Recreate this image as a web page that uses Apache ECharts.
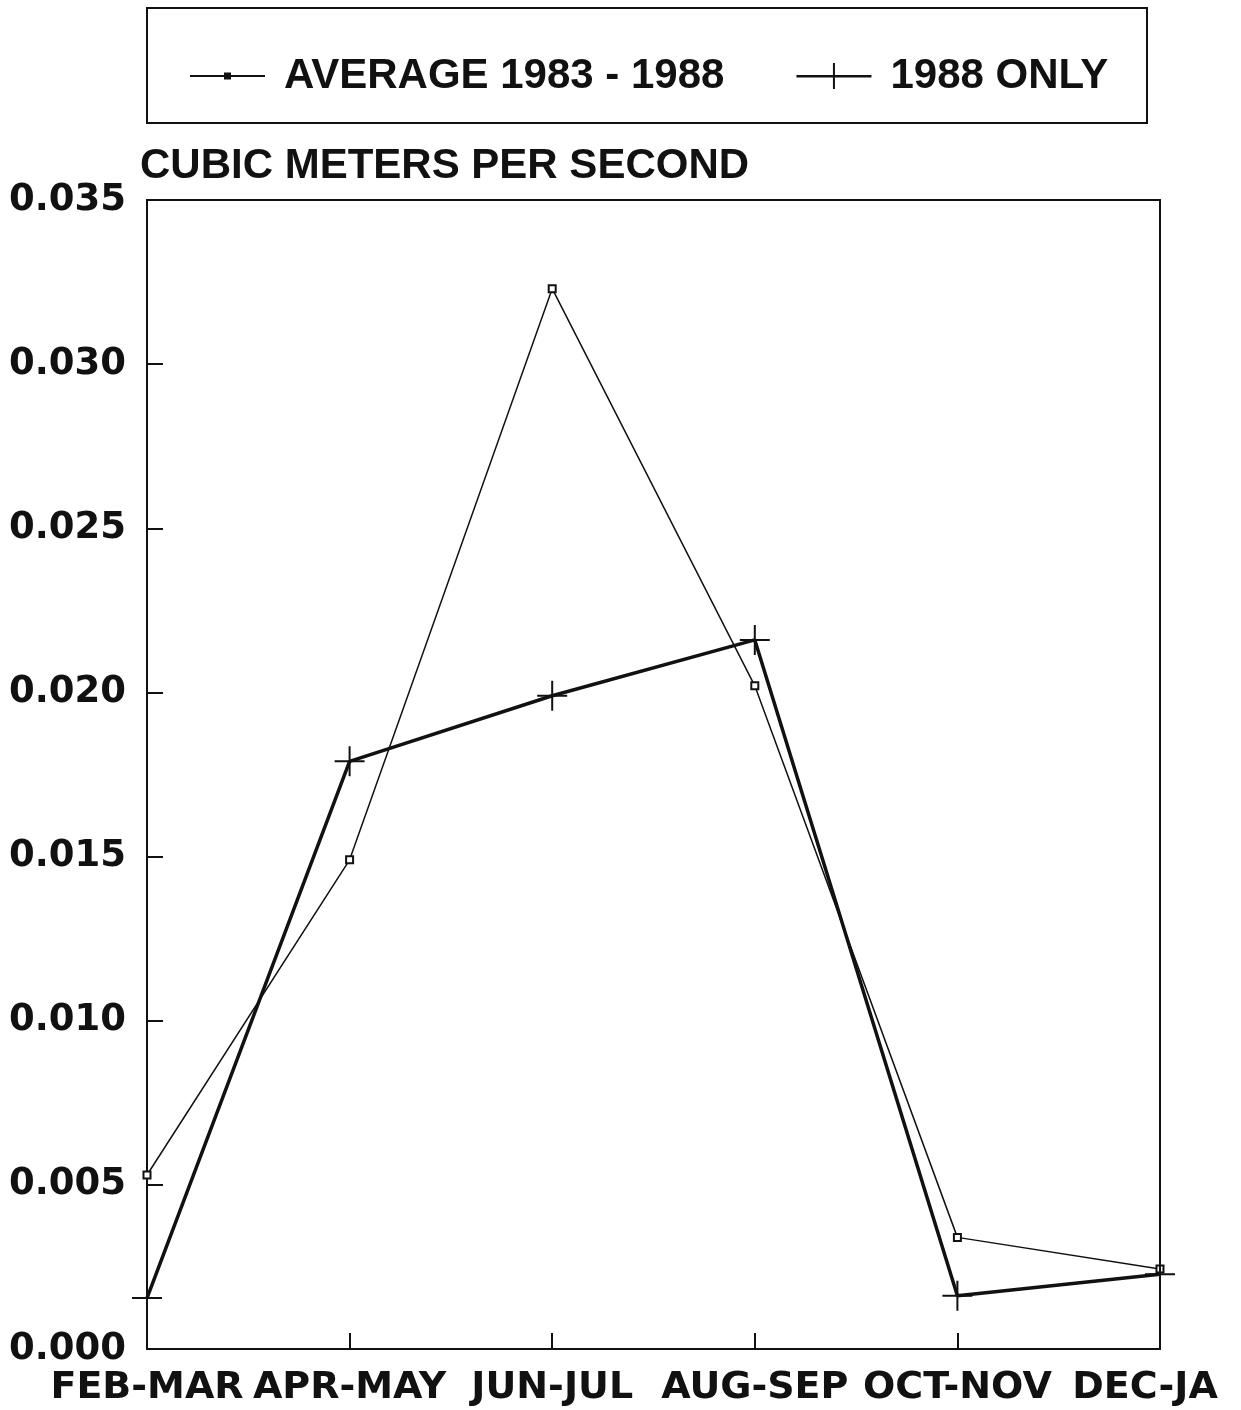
<!DOCTYPE html>
<html><head><meta charset="utf-8">
<script src="https://cdn.jsdelivr.net/npm/echarts@6/dist/echarts.min.js"></script>
<style>html,body{margin:0;padding:0;background:#fff}#c{width:1241px;height:1410px}</style>
</head><body><div id="c"></div>
<script>
const categories = ['FEB-MAR','APR-MAY','JUN-JUL','AUG-SEP','OCT-NOV','DEC-JA'];
const average8388 = [0.0053, 0.0149, 0.0323, 0.0202, 0.0034, 0.00244];
const only1988 = [0.00155, 0.0179, 0.0199, 0.0216, 0.00162, 0.00228];
const yTicks = [0, 0.005, 0.010, 0.015, 0.020, 0.025, 0.030, 0.035];
const seriesNames = ['AVERAGE 1983 - 1988', '1988 ONLY'];

const chart = echarts.init(document.getElementById('c'), null, {renderer:'canvas'});
const plus = 'path://M-1,-15h2v30h-2zM-15,-1h30v2h-30z';
const legendAvgIcon = 'path://M0,14h75v2h-75zM34,11.5h7v7h-7z';
const legendPlusIcon = 'path://M0,14h75v2.5h-75zM36.5,2h2v26h-2z';
chart.setOption({
  animation:false,
  backgroundColor:'#fff',
  graphic:[{type:'rect', shape:{x:147,y:8,width:1000,height:115}, style:{fill:'none',stroke:'#111',lineWidth:2}}],
  legend:{
    top:50, left:185, itemWidth:75, itemHeight:30, itemGap:72,
    itemStyle:{borderWidth:0},
    textStyle:{fontFamily:'Liberation Sans', fontWeight:'bold', fontSize:42, color:'#111', padding:[0,0,0,14]},
    data:[{name:seriesNames[0], icon:legendAvgIcon},{name:seriesNames[1], icon:legendPlusIcon}]
  },
  title:{text:'CUBIC METERS PER SECOND', left:135, top:140,
    textStyle:{fontFamily:'Liberation Sans', fontWeight:'bold', fontSize:42, color:'#111'}},
  grid:{left:147, right:81, top:200, bottom:61, show:true, borderColor:'#111', borderWidth:2, containLabel:false},
  xAxis:{type:'category', boundaryGap:false,
    data:categories.map((c,i)=> i===categories.length-1 ? {value:c, textStyle:{padding:[0,30,0,0]}} : c),
    axisLine:{lineStyle:{color:'#111',width:2}},
    axisTick:{inside:true, length:16, lineStyle:{color:'#111',width:2}},
    axisLabel:{interval:0, margin:20, color:'#111', fontFamily:'DejaVu Sans', fontWeight:'bold', fontSize:38},
    splitLine:{show:false}},
  yAxis:{type:'value', min:0, max:0.035, interval:0.005,
    axisLine:{show:true, lineStyle:{color:'#111',width:2}},
    axisTick:{show:true, inside:true, length:16, lineStyle:{color:'#111',width:2}},
    axisLabel:{margin:21, color:'#111', fontFamily:'DejaVu Sans', fontWeight:'bold', fontSize:37,
      formatter:v=>v.toFixed(3)},
    splitLine:{show:false}},
  series:[
    {name:seriesNames[0], type:'line', data:average8388, symbol:'emptyRect', symbolSize:7,
      lineStyle:{color:'#111', width:1.5}, itemStyle:{color:'#111', borderColor:'#111', borderWidth:1.5}},
    {name:seriesNames[1], type:'line', data:only1988, symbol:plus, symbolSize:30,
      lineStyle:{color:'#111', width:3.5}, itemStyle:{color:'#111'}}
  ]
});
</script></body></html>
